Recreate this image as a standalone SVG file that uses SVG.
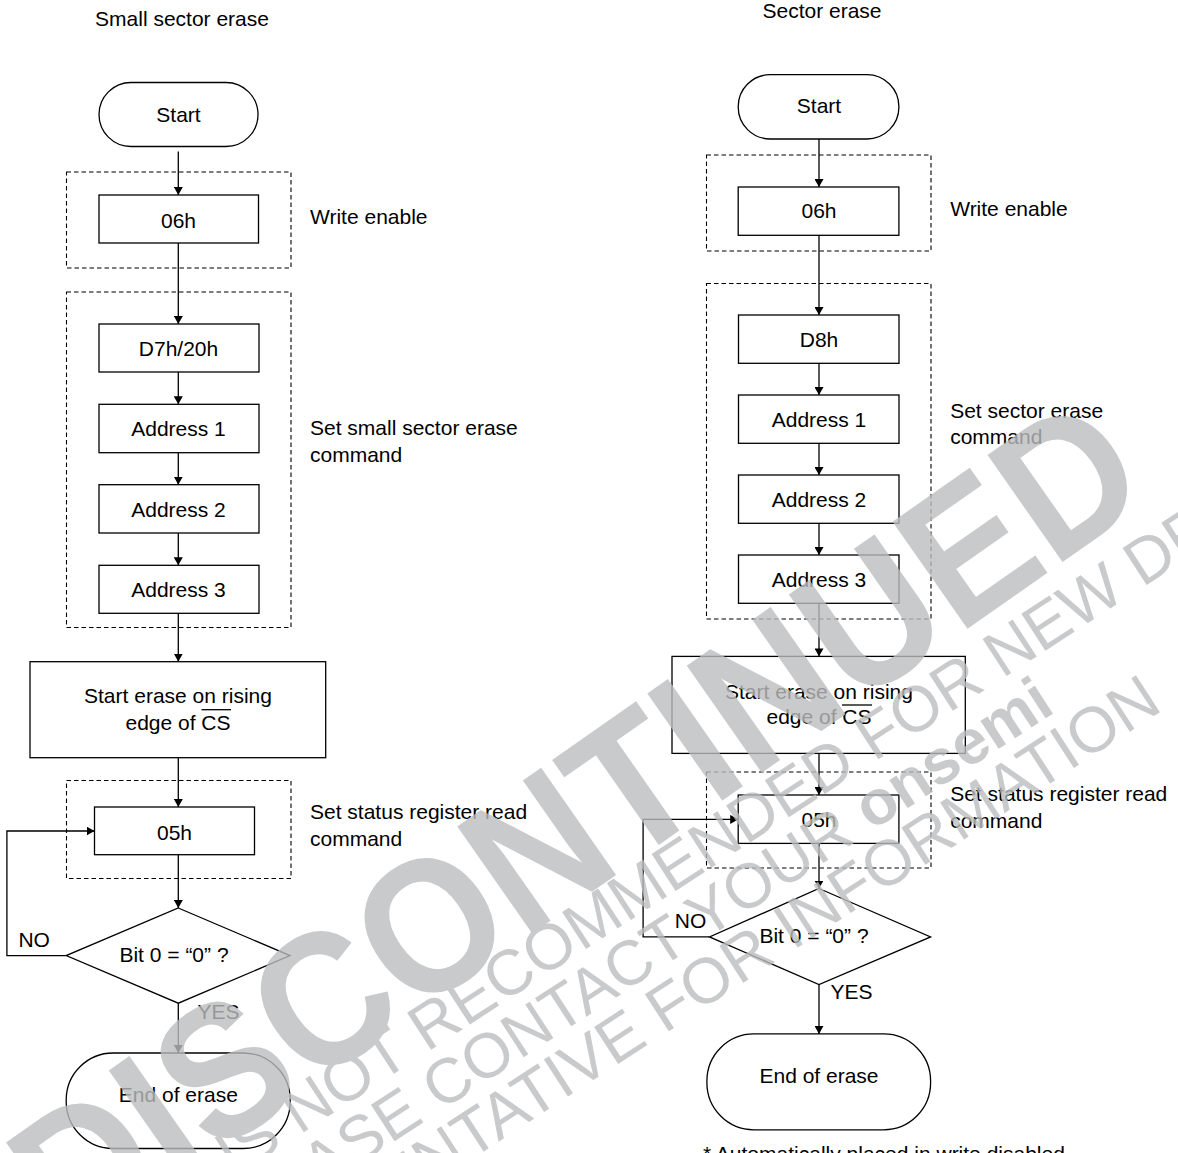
<svg xmlns="http://www.w3.org/2000/svg" width="1178" height="1153" viewBox="0 0 1178 1153">
<defs>
<style>
text{font-family:"Liberation Sans",Arial,sans-serif;font-size:21px;fill:#000}
.c{text-anchor:middle}
.box{fill:#fff;stroke:#000;stroke-width:1.3}
.dash{fill:none;stroke:#000;stroke-width:1.1;stroke-dasharray:4.5 3}
.ln{fill:none;stroke:#000;stroke-width:1.3}
.arr{fill:none;stroke:#000;stroke-width:1.3;marker-end:url(#ah)}
.wm text{fill:#bcbdbf}
</style>
<marker id="ah" viewBox="0 0 8 9" refX="8" refY="4.5" markerWidth="8" markerHeight="9" markerUnits="userSpaceOnUse" orient="auto"><path d="M0,0L8,4.5L0,9z" fill="#000"/></marker>
</defs>
<rect width="1178" height="1153" fill="#fff"/>

<g id="titles">
<text class="c" x="182" y="26">Small sector erase</text>
<text class="c" x="822" y="18">Sector erase</text>
</g>

<g id="groups">
<rect class="dash" x="66.5" y="172" width="224.5" height="96"/>
<rect class="dash" x="66.5" y="292" width="224.5" height="335.5"/>
<rect class="dash" x="66.5" y="780.5" width="224.5" height="98"/>
<rect class="dash" x="706.5" y="155" width="224.5" height="96"/>
<rect class="dash" x="706.5" y="283.5" width="224.5" height="335.5"/>
<rect class="dash" x="706.5" y="772" width="224.5" height="96"/>
</g>

<g id="connectors">
<line class="arr" x1="178.3" y1="151.5" x2="178.3" y2="195"/>
<line class="arr" x1="178.3" y1="243" x2="178.3" y2="324"/>
<line class="arr" x1="178.3" y1="372" x2="178.3" y2="404.3"/>
<line class="arr" x1="178.3" y1="452.7" x2="178.3" y2="484.7"/>
<line class="arr" x1="178.3" y1="533" x2="178.3" y2="565.3"/>
<line class="arr" x1="178.3" y1="613.3" x2="178.3" y2="661.7"/>
<line class="arr" x1="178.3" y1="757.7" x2="178.3" y2="807"/>
<line class="arr" x1="178.3" y1="854.7" x2="178.3" y2="908"/>
<line class="arr" x1="178.3" y1="1003.2" x2="178.3" y2="1053"/>
<path class="arr" d="M66.2,955.6H6.9V831H94.5"/>
<line class="arr" x1="819" y1="139" x2="819" y2="187"/>
<line class="arr" x1="819" y1="235.3" x2="819" y2="315"/>
<line class="arr" x1="819" y1="363.3" x2="819" y2="395"/>
<line class="arr" x1="819" y1="443.3" x2="819" y2="475"/>
<line class="arr" x1="819" y1="523.3" x2="819" y2="555"/>
<line class="arr" x1="819" y1="603.3" x2="819" y2="656.4"/>
<line class="arr" x1="819" y1="753.4" x2="819" y2="795"/>
<line class="arr" x1="819" y1="843.4" x2="819" y2="888.5"/>
<line class="arr" x1="819" y1="984.5" x2="819" y2="1033.9"/>
<path class="arr" d="M709.5,936.9H643.1V819.4H738.2"/>
</g>

<g id="l-start"><rect class="box" x="99" y="82.5" width="159" height="64" rx="32" ry="32"/><text class="c" x="178.5" y="121.5">Start</text></g>
<g id="l-06h"><rect class="box" x="99" y="195" width="159.5" height="48"/><text class="c" x="178.5" y="227.5">06h</text></g>
<g id="l-d7h"><rect class="box" x="99" y="324" width="160" height="48"/><text class="c" x="178.5" y="356">D7h/20h</text></g>
<g id="l-a1"><rect class="box" x="99" y="404.3" width="160" height="48.4"/><text class="c" x="178.5" y="436">Address 1</text></g>
<g id="l-a2"><rect class="box" x="99" y="484.7" width="160" height="48.3"/><text class="c" x="178.5" y="516.7">Address 2</text></g>
<g id="l-a3"><rect class="box" x="99" y="565.3" width="160" height="48"/><text class="c" x="178.5" y="596.7">Address 3</text></g>
<g id="l-start-erase"><rect class="box" x="30" y="661.7" width="295.7" height="96"/><text class="c" x="178" y="703.4">Start erase on rising</text><text class="c" x="178" y="729.8">edge of CS</text><line class="ln" x1="201.5" y1="709.7" x2="231" y2="709.7"/></g>
<g id="l-05h"><rect class="box" x="94.5" y="807" width="160" height="47.7"/><text class="c" x="174.5" y="840">05h</text></g>
<g id="l-bit0"><polygon class="box" points="178.3,908 290,955.6 178.3,1003.2 66.2,955.6"/><text class="c" x="174" y="962.3">Bit 0 = “0” ?</text></g>
<g id="l-end"><rect class="box" x="66.2" y="1053" width="224" height="95.5" rx="47" ry="47"/><text class="c" x="178.3" y="1101.6">End of erase</text></g>
<g id="l-labels">
<text x="310" y="223.5">Write enable</text>
<text x="310" y="435">Set small sector erase</text>
<text x="310" y="461.7">command</text>
<text x="310" y="818.7">Set status register read</text>
<text x="310" y="846">command</text>
<text x="18.4" y="947.4">NO</text>
<text x="197.5" y="1019">YES</text>
</g>

<g id="r-start"><rect class="box" x="738.2" y="74.7" width="160.7" height="64.3" rx="32" ry="32"/><text class="c" x="819" y="113.3">Start</text></g>
<g id="r-06h"><rect class="box" x="738.2" y="187" width="160.7" height="48.3"/><text class="c" x="819" y="218.3">06h</text></g>
<g id="r-d8h"><rect class="box" x="738.5" y="315" width="160.5" height="48.3"/><text class="c" x="819" y="346.7">D8h</text></g>
<g id="r-a1"><rect class="box" x="738.5" y="395" width="160.5" height="48.3"/><text class="c" x="819" y="426.7">Address 1</text></g>
<g id="r-a2"><rect class="box" x="738.5" y="475" width="160.5" height="48.3"/><text class="c" x="819" y="506.7">Address 2</text></g>
<g id="r-a3"><rect class="box" x="738.5" y="555" width="160.5" height="48.3"/><text class="c" x="819" y="586.7">Address 3</text></g>
<g id="r-start-erase"><rect class="box" x="672" y="656.4" width="293.3" height="97"/><text class="c" x="819" y="698.8">Start erase on rising</text><text class="c" x="819" y="724.2">edge of CS</text><line class="ln" x1="842" y1="705" x2="872" y2="705"/></g>
<g id="r-05h"><rect class="box" x="738.2" y="795" width="160.7" height="48.4"/><text class="c" x="819" y="826.8">05h</text></g>
<g id="r-bit0"><polygon class="box" points="819,888.5 930.6,936.9 819,984.5 709.5,936.9"/><text class="c" x="814" y="943.2">Bit 0 = “0” ?</text></g>
<g id="r-end"><rect class="box" x="706.9" y="1033.9" width="223.7" height="95.9" rx="47" ry="47"/><text class="c" x="819" y="1083.2">End of erase</text></g>
<g id="r-labels">
<text x="950.2" y="216">Write enable</text>
<text x="950.2" y="417.7">Set sector erase</text>
<text x="950.2" y="444.3">command</text>
<text x="950.2" y="801">Set status register read</text>
<text x="950.2" y="827.5">command</text>
<text x="674.8" y="928">NO</text>
<text x="830.4" y="999.3">YES</text>
<text x="703" y="1161">* Automatically placed in write disabled</text>
</g>

<g id="watermark" class="wm" opacity="0.8">
<text class="c" transform="rotate(-35)" x="0" y="1070" textLength="1324" lengthAdjust="spacingAndGlyphs" style="font-size:190px;font-weight:bold">DISCONTINUED</text>
<g transform="rotate(-33)">
<text class="c" x="-8" y="1115" style="font-size:64px">THIS PRODUCT IS NOT RECOMMENDED FOR NEW DESIGNS</text>
<text class="c" x="0" y="1172" style="font-size:63px">PLEASE CONTACT YOUR <tspan style="font-weight:bold">onsemi</tspan></text>
<text class="c" x="0" y="1229" style="font-size:64px">REPRESENTATIVE FOR INFORMATION</text>
</g>
</g>
</svg>
